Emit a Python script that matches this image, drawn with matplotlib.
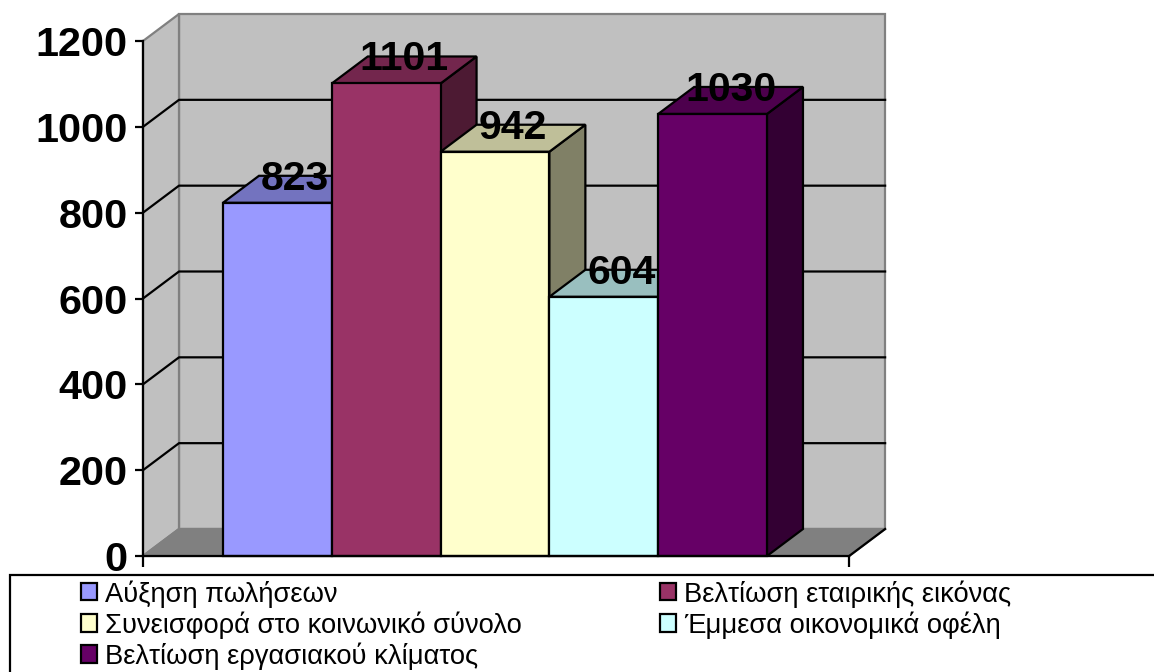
import matplotlib
matplotlib.use('Agg')
import matplotlib.pyplot as plt
from matplotlib.colors import to_rgb
from matplotlib.patches import Patch, Polygon, Rectangle
from matplotlib.transforms import ScaledTranslation

plt.rcParams['font.family'] = ['Liberation Sans', 'DejaVu Sans']

# chart data
categories = ['Αύξηση πωλήσεων', 'Βελτίωση εταιρικής εικόνας', 'Συνεισφορά στο κοινωνικό σύνολο',
              'Έμμεσα οικονομικά οφέλη', 'Βελτίωση εργασιακού κλίματος']
values = [823, 1101, 942, 604, 1030]
colors = ['#9999FF', '#993366', '#FFFFCC', '#CCFFFF', '#660066']
yticks = [0, 200, 400, 600, 800, 1000, 1200]

W, H = 1154, 672
PX_X = 108.8            # pixels per bar slot
PX_Y = 515 / 1200.0     # pixels per value unit
LEFT = -0.735           # plot box, in bar slots
RIGHT = 5.755
DX = 36 / PX_X          # depth of the fake 3d
DY = 27 / PX_Y
LW = 1.6


def shade(c, f):
  return tuple(v * f for v in to_rgb(c))


def face(ax, pts, fc, z, ec='black', lw=LW):
  ax.add_patch(Polygon(pts, closed=True, facecolor=fc, edgecolor=ec, linewidth=lw,
                       joinstyle='miter', zorder=z))


fig = plt.figure(figsize=(W / 100, H / 100), dpi=100)
ax = fig.add_axes([0, 0, 1, 1])
ax.set_xlim(LEFT - 143 / PX_X, LEFT + (W - 143) / PX_X)
ax.set_ylim(-(H - 556) / PX_Y, 556 / PX_Y)
ax.patch.set_visible(False)

top = yticks[-1]
# walls and floor
face(ax, [(LEFT + DX, DY), (RIGHT + DX, DY), (RIGHT + DX, top + DY), (LEFT + DX, top + DY)], '#C0C0C0', 1, '#808080')
face(ax, [(LEFT, 0), (LEFT + DX, DY), (LEFT + DX, top + DY), (LEFT, top)], '#C0C0C0', 1, '#808080')
face(ax, [(LEFT, 0), (RIGHT, 0), (RIGHT + DX, DY), (LEFT + DX, DY)], '#808080', 1, '#808080')
ax.plot([RIGHT, RIGHT + DX], [0, DY], color='black', lw=LW, zorder=1.5)

# gridlines
for t in yticks[1:-1]:
  ax.plot([LEFT, LEFT + DX, RIGHT + DX], [t, t + DY, t + DY], color='black', lw=LW, zorder=1.5)

# bars, left to right so each front hides the previous side
for i, (v, c) in enumerate(zip(values, colors)):
  z = 3 + i * 0.1
  face(ax, [(i + 1, 0), (i + 1 + DX, DY), (i + 1 + DX, v + DY), (i + 1, v)], shade(c, 0.5), z)
  face(ax, [(i, v), (i + DX, v + DY), (i + 1 + DX, v + DY), (i + 1, v)], shade(c, 0.75), z)
  face(ax, [(i, 0), (i + 1, 0), (i + 1, v), (i, v)], c, z)

for i, v in enumerate(values):
  ax.text(i + 0.5 + DX / 2, v + DY, str(v), ha='center', va='center', fontsize=29.5,
          fontweight='bold', color='black', zorder=6,
          transform=ax.transData + ScaledTranslation(0, -3 / 100, fig.dpi_scale_trans))

# real axes, moved onto the front edge of the box
for s in ['top', 'right']:
  ax.spines[s].set_visible(False)
ax.spines['left'].set_position(('data', LEFT))
ax.spines['left'].set_bounds(0, top)
ax.spines['bottom'].set_position(('data', 0))
ax.spines['bottom'].set_bounds(LEFT, RIGHT)
for s in ['left', 'bottom']:
  ax.spines[s].set_linewidth(LW)
  ax.spines[s].set_zorder(5)
ax.set_yticks(yticks)
ax.set_xticks([LEFT, RIGHT])
ax.set_xticklabels([])
ax.tick_params(axis='y', length=6, width=LW, pad=5, labelsize=29.8)
ax.tick_params(axis='x', length=8, width=LW)
for lab in ax.get_yticklabels():
  lab.set_fontweight('bold')

# legend box runs off the right and bottom of the picture
ax.add_patch(Rectangle((10 / W, -0.05), 1.05, 0.05 + (H - 575) / H, transform=ax.transAxes, fill=False,
                       edgecolor='black', linewidth=LW, clip_on=False, zorder=2))
handles = [Patch(facecolor=c, edgecolor='black', linewidth=LW) for c in colors]
# legend fills by column, the picture reads by row
order = [0, 2, 4, 1, 3]
ax.legend([handles[i] for i in order], [categories[i] for i in order], ncol=2, frameon=False,
          loc='upper left', bbox_to_anchor=(81 / W, 1 - 580 / H), borderaxespad=0, borderpad=0,
          fontsize=19.7, handlelength=0.59, handleheight=0.59, handletextpad=0.295,
          labelspacing=0.13, columnspacing=5.03)

fig.savefig('out.png', dpi=100)
plt.close()
